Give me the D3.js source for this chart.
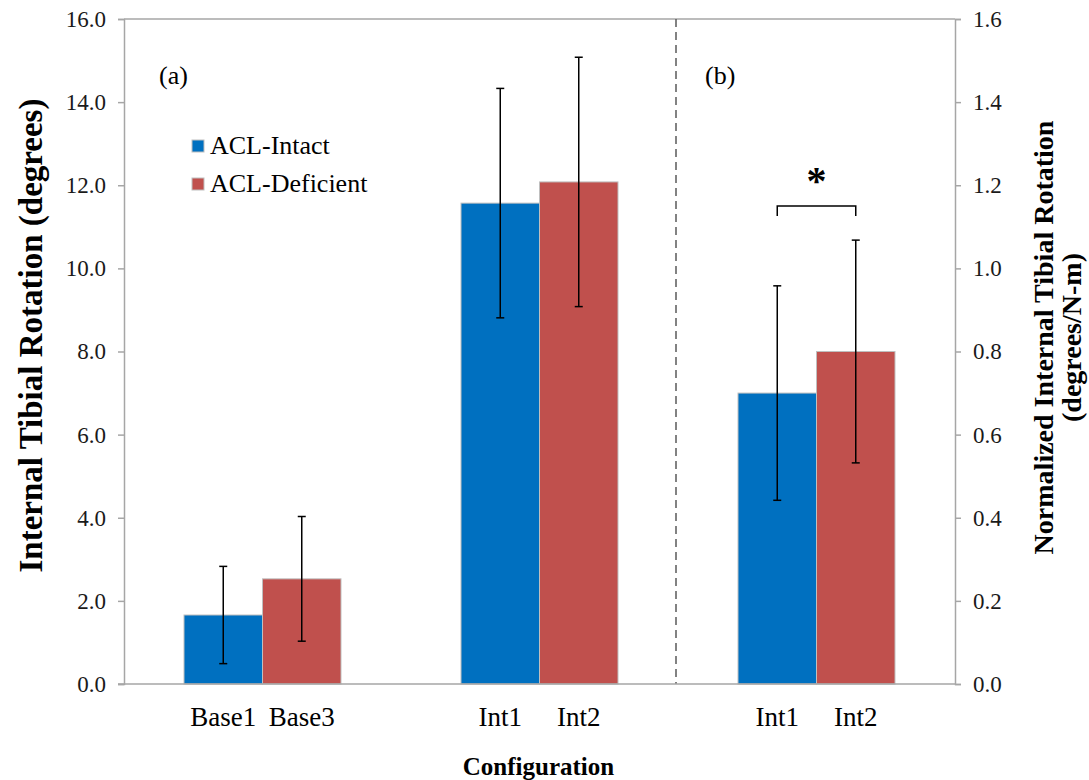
<!DOCTYPE html>
<html>
<head>
<meta charset="utf-8">
<script src="https://cdn.jsdelivr.net/npm/d3@7"></script>
<style>
  html, body { margin: 0; padding: 0; background: #fff; }
  svg { display: block; font-family: "Liberation Serif", "Times New Roman", serif; }
</style>
</head>
<body>
<div id="chart"></div>
<script>
// groups along the x axis; the last one is panel (b), read on the right axis
const groups = ['Base', 'Int', 'NormInt'];
const seriesNames = ['ACL-Intact', 'ACL-Deficient'];
const colors = ['#0070c0', '#c0504d'];
const catLabels = [['Base1', 'Base3'], ['Int1', 'Int2'], ['Int1', 'Int2']];
// means and SD (panel b values are in degrees/N-m)
const means = [[1.66, 2.53], [11.57, 12.08], [0.70, 0.80]];
const errs = [[1.17, 1.50], [2.76, 3.00], [0.258, 0.268]];
const leftTicks = [0, 2, 4, 6, 8, 10, 12, 14, 16];
const rightTicks = [0, 0.2, 0.4, 0.6, 0.8, 1.0, 1.2, 1.4, 1.6];
const bracketLevel = 1.15;

const W = 1089, H = 780;
const m = { left: 124, right: 134, top: 19, bottom: 96 };
const innerW = W - m.left - m.right, innerH = H - m.top - m.bottom;

const svg = d3.select('#chart').append('svg').attr('width', W).attr('height', H);
const g = svg.append('g').attr('transform', `translate(${m.left},${m.top})`);

const x0 = d3.scaleBand().domain(groups).range([0, innerW]);
const x1 = d3.scaleBand().domain([0, 1]).range([-78.5, 78.5]);
const yL = d3.scaleLinear().domain([0, 16]).range([innerH, 0]);
const yR = d3.scaleLinear().domain([0, 1.6]).range([innerH, 0]);
const yOf = gi => gi === 2 ? yR : yL;
const axisCol = '#a6a6a6';

// top frame line
g.append('line').attr('x1', 0).attr('x2', innerW).attr('y1', 0).attr('y2', 0)
  .attr('stroke', axisCol).attr('stroke-width', 1.5);

// panel divider
const divX = x0('NormInt') - 2;
g.append('line').attr('x1', divX).attr('x2', divX).attr('y1', 0).attr('y2', innerH)
  .attr('stroke', '#595959').attr('stroke-width', 1.5).attr('stroke-dasharray', '8,5');

// bars
groups.forEach((grp, gi) => {
  const y = yOf(gi);
  const cx = x0(grp) + x0.bandwidth() / 2;
  [0, 1].forEach(si => {
    const bx = cx + x1(si);
    g.append('rect')
      .attr('x', bx).attr('width', x1.bandwidth())
      .attr('y', y(means[gi][si])).attr('height', innerH - y(means[gi][si]))
      .attr('fill', colors[si]).attr('stroke', '#bfbfbf').attr('stroke-width', 1);
    const ex = bx + x1.bandwidth() / 2;
    const hi = y(means[gi][si] + errs[gi][si]), lo = y(means[gi][si] - errs[gi][si]);
    g.append('line').attr('x1', ex).attr('x2', ex).attr('y1', hi).attr('y2', lo)
      .attr('stroke', '#000').attr('stroke-width', 1.5);
    [hi, lo].forEach(v => g.append('line').attr('x1', ex - 4).attr('x2', ex + 4)
      .attr('y1', v).attr('y2', v).attr('stroke', '#000').attr('stroke-width', 1.5));
    g.append('text').attr('x', ex).attr('y', innerH + 42)
      .attr('text-anchor', 'middle').attr('font-size', 27).attr('fill', '#000')
      .text(catLabels[gi][si]);
  });
});

// axes
const axL = g.append('g').call(d3.axisLeft(yL).tickValues(leftTicks).tickFormat(d3.format('.1f')).tickSize(6).tickPadding(12));
const axR = g.append('g').attr('transform', `translate(${innerW},0)`)
  .call(d3.axisRight(yR).tickValues(rightTicks).tickFormat(d3.format('.1f')).tickSize(6).tickPadding(12));
[axL, axR].forEach(a => {
  a.select('.domain').attr('stroke', axisCol).attr('stroke-width', 1.5);
  a.selectAll('.tick line').attr('stroke', axisCol).attr('stroke-width', 1.5);
  a.selectAll('.tick text').attr('font-size', 23).attr('fill', '#1a1a1a')
    .attr('font-family', '"Liberation Serif", serif');
});
g.append('line').attr('x1', -6).attr('x2', innerW).attr('y1', innerH).attr('y2', innerH)
  .attr('stroke', axisCol).attr('stroke-width', 1.5);

// significance bracket in panel (b)
const bc = x0('NormInt') + x0.bandwidth() / 2;
const bL = bc + x1(0) + x1.bandwidth() / 2, bR = bc + x1(1) + x1.bandwidth() / 2;
const by = yR(bracketLevel);
g.append('path').attr('d', `M${bL},${by + 10}V${by}H${bR}V${by + 10}`)
  .attr('fill', 'none').attr('stroke', '#000').attr('stroke-width', 1.5);
g.append('text').attr('x', (bL + bR) / 2).attr('y', by - 12).attr('text-anchor', 'middle')
  .attr('font-size', 40).attr('font-weight', 'bold').text('*');

// panel labels
g.append('text').attr('x', 35).attr('y', 65).attr('font-size', 26).text('(a)');
g.append('text').attr('x', x0('NormInt') + 27).attr('y', 65).attr('font-size', 26).text('(b)');

// legend
seriesNames.forEach((s, i) => {
  const ly = 121 + i * 38;
  g.append('rect').attr('x', 68).attr('y', ly).attr('width', 12).attr('height', 12)
    .attr('fill', colors[i]).attr('stroke', '#bfbfbf').attr('stroke-width', 1);
  g.append('text').attr('x', 86).attr('y', ly + 14).attr('font-size', 26).text(s);
});

// axis titles
svg.append('text').attr('transform', `translate(42,${m.top + innerH / 2 - 16}) rotate(-90)`)
  .attr('text-anchor', 'middle').attr('font-size', 33).attr('font-weight', 'bold')
  .text('Internal Tibial Rotation (degrees)');
const rt = svg.append('text').attr('transform', `translate(1053,${m.top + innerH / 2 - 14}) rotate(-90)`)
  .attr('text-anchor', 'middle').attr('font-size', 28).attr('font-weight', 'bold');
rt.append('tspan').attr('x', 0).attr('dy', 0).text('Normalized Internal Tibial Rotation');
rt.append('tspan').attr('x', 0).attr('dy', 28).text('(degrees/N-m)');
svg.append('text').attr('x', m.left + x0('Int') + x0.bandwidth() / 2 - 1).attr('y', 775)
  .attr('text-anchor', 'middle').attr('font-size', 25).attr('font-weight', 'bold')
  .text('Configuration');
</script>
</body>
</html>
